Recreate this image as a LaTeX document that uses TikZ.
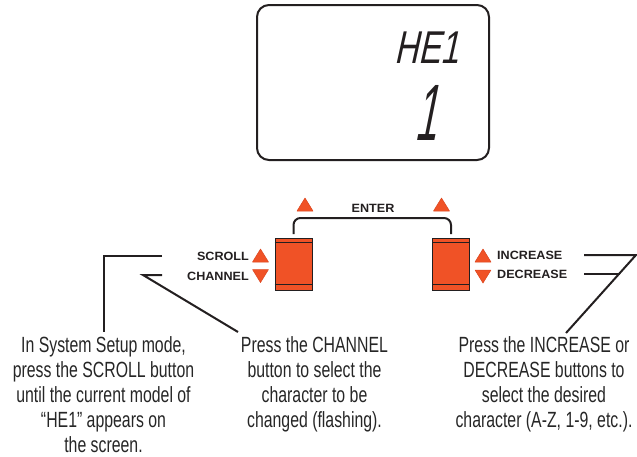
\documentclass[tikz,border=0pt]{standalone}
\usepackage{fontspec}
\setmainfont{Liberation Sans}
\newfontfamily\bodyfont{Liberation Sans}[FakeStretch=0.72]
\newfontfamily\labelfont{Liberation Sans}[FakeStretch=1.05]
\newfontfamily\lcdfont{Liberation Sans}[FakeSlant=0.22,FakeStretch=0.72]
\newfontfamily\lcdbigfont{Liberation Sans}[FakeSlant=0.2,FakeStretch=0.5]
\definecolor{dark}{HTML}{231F20}
\definecolor{btnorange}{RGB}{240,82,38}
\definecolor{tritedge}{RGB}{220,70,30}
\tikzset{
  lcdbox/.style={draw=dark, line width=2pt, rounded corners=12pt, minimum width=232pt, minimum height=155pt, inner sep=0},
  lcdtext/.style={inner sep=0, text=dark},
  btn/.style={draw=dark, line width=1pt, fill=btnorange, minimum width=37pt, minimum height=52pt, inner sep=0},
  btnline/.style={draw=dark, line width=1pt},
  tri/.style={fill=btnorange, draw=tritedge, line width=0.5pt, line join=round},
  lbl/.style={inner sep=0, text=dark, font=\labelfont\bfseries\fontsize{12}{12}\selectfont},
  body/.style={inner sep=0, align=center, text=black!85, font=\bodyfont\fontsize{22}{25}\selectfont},
  lead/.style={draw=dark, line width=2pt},
  bracket/.style={draw=dark, line width=2pt, rounded corners=7pt}
}
\newcommand\triup[2]{\filldraw[tri] ({#1-8},{#2+6.5}) -- ({#1+8},{#2+6.5}) -- (#1,{#2-6.5}) -- cycle;}
\newcommand\tridown[2]{\filldraw[tri] ({#1-8},{#2-6.5}) -- ({#1+8},{#2-6.5}) -- (#1,{#2+6.5}) -- cycle;}
\begin{document}
\begin{tikzpicture}[x=1pt,y=-1pt]
\useasboundingbox (0,0) rectangle (637,456);
% display
\node[lcdbox] (display) at (373,82.5) {};
\node[lcdtext, anchor=base east] (he) at (459,63) {\lcdfont\fontsize{46}{46}\selectfont HE1};
\node[lcdtext, anchor=base] (one) at (426,140) {\lcdbigfont\fontsize{80}{80}\selectfont 1};
% buttons
\node[btn] (lbtn) at (293.5,264) {};
\node[btn] (rbtn) at (451,264) {};
\foreach \b in {lbtn,rbtn}{
  \draw[btnline] ([yshift=-5pt]\b.north west) -- ([yshift=-5pt]\b.north east);
  \draw[btnline] ([yshift=6pt]\b.south west) -- ([yshift=6pt]\b.south east);
}
% enter bracket
\coordinate (bl) at (293.5,234);
\coordinate (br) at (451,234);
\draw[bracket] (bl) -- (293.5,218) -- (451,218) -- (br);
\node[lbl] (enter) at (373,208) {ENTER};
\triup{305}{204.5}
\triup{441.5}{204.5}
% left labels
\node[lbl, anchor=east] (scroll) at (249,256) {SCROLL};
\node[lbl, anchor=east] (channel) at (249,276) {CHANNEL};
\triup{260.5}{255.5}
\tridown{260.5}{276}
% right labels
\node[lbl, anchor=west] (incr) at (497,255) {INCREASE};
\node[lbl, anchor=west] (decr) at (497,274) {DECREASE};
\triup{483}{255.5}
\tridown{483}{276.5}
% texts
\node[body, anchor=north] (t1) at (103.5,336) {In System Setup mode,\\press the SCROLL button\\until the current model of\\“HE1” appears on\\the screen.};
\node[body, anchor=north] (t2) at (314.5,336) {Press the CHANNEL\\button to select the\\character to be\\changed (flashing).};
\node[body, anchor=north] (t3) at (544,336) {Press the INCREASE or\\DECREASE buttons to\\select the desired\\character (A-Z, 1-9, etc.).};
% leaders
\coordinate (l1a) at (162,256);
\coordinate (l1b) at (104,256);
\coordinate (l1c) at (104,332);
\draw[lead] (l1a) -- (l1b) -- (l1c);
\coordinate (l2a) at (162,275);
\coordinate (l2b) at (143,275);
\coordinate (l2c) at (238,332);
\draw[lead] (l2a) -- (l2b) -- (l2c);
\coordinate (r1a) at (584,255);
\coordinate (r1b) at (636,255);
\coordinate (r1c) at (566,333);
\draw[lead] (r1a) -- (r1b) -- (r1c);
\coordinate (r2a) at (584,274);
\coordinate (r2b) at (620,274);
\draw[lead] (r2a) -- (r2b);
\end{tikzpicture}
\end{document}
